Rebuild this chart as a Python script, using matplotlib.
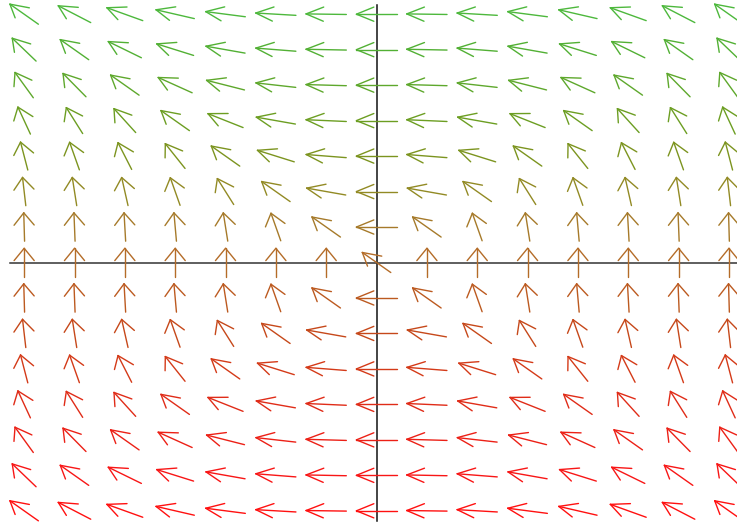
import numpy as np
import matplotlib
matplotlib.use("Agg")
import matplotlib.pyplot as plt
from matplotlib.collections import LineCollection

# grid of arrow centres
x_grid = [-7, -6, -5, -4, -3, -2, -1, 0, 1, 2, 3, 4, 5, 6, 7]
y_grid = [7, 6, 5, 4, 3, 2, 1, 0, -1, -2, -3, -4, -5, -6, -7]

# leftward pull per row, upward pull per column
left_pull = [49, 36, 25, 16, 9, 4, 1, 0, 1, 4, 9, 16, 25, 36, 49]
up_pull = [49, 36, 25, 16, 9, 4, 1, 0, 1, 4, 9, 16, 25, 36, 49]
origin_dir = (-1.0, 1.0)

# colour of each row, top to bottom
row_colors = [
    "#4db83c", "#52b034", "#5ea82c", "#6c9e22", "#7c941f", "#928a24", "#a67a2a",
    "#b46c28", "#bc5a20", "#c6481a", "#d43a18", "#e02c18", "#ec2016", "#f81616", "#ff1010",
]

ARROW_LEN = 0.8
HEAD_LEN = 0.4
HEAD_ANGLE = np.pi / 6

fig = plt.figure(figsize=(7.37, 5.25), dpi=100)
ax = fig.add_axes([0, 0, 1, 1])

segs = []
colors = []
for r, yv in enumerate(y_grid):
    for c, xv in enumerate(x_grid):
        u = -left_pull[r]
        v = up_pull[c]
        if u == 0 and v == 0:
            u, v = origin_dir
        theta = np.arctan2(v, u)
        dx = 0.5 * ARROW_LEN * np.cos(theta)
        dy = 0.5 * ARROW_LEN * np.sin(theta)
        tail = (xv - dx, yv - dy)
        head = (xv + dx, yv + dy)
        segs.append([tail, head])
        for s in (1, -1):
            a = theta + s * HEAD_ANGLE
            b = (head[0] - HEAD_LEN * np.cos(a), head[1] - HEAD_LEN * np.sin(a))
            segs.append([head, b])
        colors += [row_colors[r]] * 3

ax.add_collection(LineCollection(segs, colors=colors, linewidths=1.0, capstyle="round", zorder=3))

ax.set_xlim(-7.48, 7.16)
ax.set_ylim(-7.40, 7.40)
for side in ("top", "right"):
    ax.spines[side].set_visible(False)
ax.spines["left"].set_position(("data", 0))
ax.spines["bottom"].set_position(("data", 0))
ax.spines["left"].set_bounds(-7.28, 7.26)
ax.spines["bottom"].set_bounds(-7.28, 7.2)
ax.spines["left"].set_color("#111111")
ax.spines["bottom"].set_color("#333333")
ax.spines["left"].set_linewidth(1.1)
ax.spines["bottom"].set_linewidth(1.1)
ax.set_xticks([])
ax.set_yticks([])

fig.savefig("out.png", dpi=100)
